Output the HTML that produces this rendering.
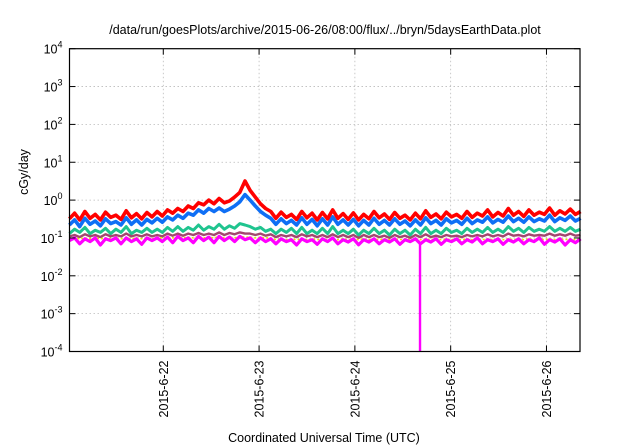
<!DOCTYPE html>
<html><head><meta charset="utf-8"><style>
body{margin:0;background:#fff;}
svg{display:block;font-family:"Liberation Sans",sans-serif;}
</style></head><body>
<svg id="chart" width="640" height="448" viewBox="0 0 640 448">
<rect width="640" height="448" fill="#fff"/>
<text x="325" y="34" font-size="12.5" text-anchor="middle">/data/run/goesPlots/archive/2015-06-26/08:00/flux/../bryn/5daysEarthData.plot</text>
<text transform="translate(28,172) rotate(-90)" font-size="12.5" text-anchor="middle">cGy/day</text>
<text x="324" y="442" font-size="12.5" text-anchor="middle">Coordinated Universal Time (UTC)</text>
<g id="grid"></g>
<g id="series"></g>
<rect x="69.5" y="48.7" width="510.5" height="302.8" fill="none" stroke="#000" stroke-width="1.2"/>
<g id="axes"></g>
</svg>
<script>
const xTicks=[22,23,24,25,26];
const xTickLabels=["2015-6-22","2015-6-23","2015-6-24","2015-6-25","2015-6-26"];
const yTickExps=[-4,-3,-2,-1,0,1,2,3,4];
const tStart=21.02, tStep=0.0539;
const red=[0.32,0.45,0.3,0.5,0.33,0.42,0.3,0.48,0.35,0.4,0.31,0.52,0.34,0.44,0.32,0.47,0.36,0.5,
0.38,0.55,0.45,0.6,0.5,0.7,0.6,0.85,0.75,1.0,0.8,1.1,0.85,0.95,1.2,1.6,
3.2,1.8,1.2,0.8,0.6,0.5,
0.33,0.48,0.35,0.42,0.31,0.5,0.34,0.45,0.3,0.47,0.32,0.55,0.33,0.44,0.31,0.46,0.3,0.42,0.32,0.5,0.34,0.43,0.31,0.47,0.33,0.4,0.3,0.45,0.32,0.52,0.35,0.43,0.32,0.48,0.36,0.42,0.33,0.5,0.35,0.45,0.38,0.55,0.36,0.47,0.38,0.6,0.4,0.5,0.37,0.55,0.4,0.48,0.42,0.62,0.4,0.52,0.43,0.58,0.42,0.5];
const blue=[0.22,0.3,0.2,0.33,0.23,0.28,0.21,0.32,0.24,0.27,0.22,0.34,0.23,0.3,0.22,0.31,0.25,0.33,
0.26,0.36,0.3,0.4,0.33,0.45,0.4,0.55,0.45,0.6,0.5,0.62,0.5,0.58,0.7,0.9,
1.4,1.0,0.7,0.5,0.4,0.33,
0.23,0.32,0.24,0.29,0.22,0.34,0.23,0.31,0.21,0.32,0.22,0.36,0.23,0.3,0.22,0.31,0.21,0.29,0.22,0.33,0.23,0.29,0.22,0.32,0.23,0.28,0.21,0.3,0.22,0.34,0.24,0.29,0.22,0.32,0.25,0.29,0.23,0.33,0.24,0.3,0.26,0.36,0.25,0.31,0.26,0.38,0.27,0.33,0.26,0.36,0.27,0.32,0.28,0.4,0.27,0.34,0.29,0.38,0.28,0.33];
const green=[0.13,0.17,0.14,0.19,0.13,0.16,0.14,0.18,0.13,0.17,0.14,0.2,0.13,0.16,0.14,0.18,0.14,0.17,
0.14,0.19,0.15,0.2,0.15,0.19,0.16,0.22,0.16,0.2,0.17,0.23,0.17,0.21,0.18,0.24,
0.22,0.2,0.17,0.19,0.15,0.17,
0.13,0.17,0.14,0.18,0.13,0.19,0.13,0.16,0.13,0.18,0.13,0.2,0.13,0.16,0.13,0.17,0.12,0.16,0.13,0.18,0.13,0.16,0.12,0.17,0.13,0.16,0.12,0.17,0.13,0.19,0.13,0.16,0.13,0.18,0.14,0.16,0.13,0.18,0.14,0.17,0.14,0.19,0.14,0.17,0.14,0.2,0.15,0.18,0.14,0.19,0.15,0.17,0.15,0.2,0.15,0.18,0.15,0.19,0.15,0.17];
const purple=[0.11,0.12,0.105,0.125,0.11,0.12,0.105,0.125,0.11,0.12,0.11,0.13,0.11,0.12,0.11,0.125,0.11,0.12,
0.11,0.13,0.115,0.13,0.115,0.13,0.12,0.135,0.12,0.13,0.12,0.14,0.12,0.135,0.125,0.14,
0.13,0.13,0.12,0.13,0.115,0.125,
0.105,0.12,0.11,0.12,0.105,0.125,0.11,0.12,0.105,0.12,0.105,0.125,0.105,0.12,0.105,0.12,0.1,0.12,0.105,0.12,0.105,0.115,0.1,0.12,0.105,0.115,0.1,0.12,0.105,0.125,0.105,0.115,0.105,0.12,0.11,0.115,0.105,0.12,0.11,0.12,0.11,0.125,0.11,0.12,0.11,0.13,0.115,0.12,0.11,0.125,0.115,0.12,0.115,0.13,0.115,0.125,0.115,0.13,0.115,0.12];
const yellow=[0.095,0.1,0.095,0.1,0.095,0.1,0.095,0.1,0.095,0.1,0.095,0.1,0.095,0.1,0.095,0.1,0.095,0.1,
0.1,0.105,0.1,0.105,0.1,0.105,0.1,0.11,0.1,0.105,0.1,0.11,0.1,0.105,0.1,0.11,
0.105,0.105,0.1,0.105,0.1,0.1,
0.09,0.095,0.09,0.095,0.09,0.095,0.09,0.095,0.09,0.095,0.09,0.095,0.09,0.095,0.09,0.095,0.09,0.095,0.09,0.095,0.09,0.095,0.09,0.095,0.09,0.095,0.09,0.095,0.09,0.095,0.09,0.095,0.09,0.095,0.09,0.095,0.09,0.095,0.09,0.095,0.09,0.095,0.09,0.095,0.09,0.095,0.09,0.095,0.09,0.095,0.09,0.095,0.09,0.095,0.09,0.095,0.09,0.095,0.09,0.095];
const magenta=[0.085,0.1,0.07,0.095,0.08,0.1,0.065,0.095,0.085,0.1,0.07,0.1,0.08,0.095,0.068,0.1,0.085,0.1,
0.08,0.105,0.075,0.11,0.085,0.1,0.075,0.11,0.085,0.105,0.075,0.11,0.085,0.105,0.08,0.11,
0.09,0.1,0.075,0.1,0.08,0.095,
0.07,0.095,0.08,0.09,0.065,0.095,0.08,0.09,0.068,0.095,0.08,0.1,0.07,0.09,0.078,0.095,0.066,0.09,0.078,0.095,0.07,0.09,0.078,0.095,0.068,0.09,0.08,0.095,0.07,0.09,0.078,0.095,0.068,0.09,0.08,0.095,0.07,0.09,0.078,0.1,0.07,0.09,0.08,0.095,0.068,0.09,0.078,0.095,0.07,0.09,0.08,0.1,0.068,0.09,0.078,0.095,0.065,0.09,0.075,0.095];
const dropTimes=[24.68];
const dropValues=[0.0001];

const X0=69.5,X1=580,Y0=48.7,Y1=351.5,D0=21.021,D1=26.35;
const xs=d=>X0+(d-D0)/(D1-D0)*(X1-X0);
const ys=v=>Y1-(Math.log10(v)+4)/8*(Y1-Y0);
const NS="http://www.w3.org/2000/svg";
const mk=(t,a,p)=>{const e=document.createElementNS(NS,t);for(const k in a)e.setAttribute(k,a[k]);p.appendChild(e);return e;};
const grid=document.getElementById('grid'),axes=document.getElementById('axes'),ser=document.getElementById('series');
xTicks.forEach((d,i)=>{
  const x=xs(d);
  const g=mk('line',{x1:x,x2:x,y1:Y0,y2:Y1,stroke:'#bbb','stroke-dasharray':'1.5,2.5','stroke-width':0.8},grid);
  
  
  const t1=mk('line',{x1:x,x2:x,y1:Y1,y2:Y1-6,stroke:'#000'},axes);
  
  
  mk('line',{x1:x,x2:x,y1:Y0,y2:Y0+6,stroke:'#000'},axes);
  const tl=mk('text',{transform:`translate(${x+4.5},${Y1+9}) rotate(-90)`,'text-anchor':'end','font-size':12.5},axes);
  tl.textContent=xTickLabels[i];
  
  
});
yTickExps.forEach(e=>{
  const y=ys(Math.pow(10,e));
  if(e>-4&&e<4){const g=mk('line',{x1:X0,x2:X1,y1:y,y2:y,stroke:'#bbb','stroke-dasharray':'1.5,2.5','stroke-width':0.8},grid);
  
  }
  const t=mk('line',{x1:X0,x2:X0+6,y1:y,y2:y,stroke:'#000'},axes);
  
  
  mk('line',{x1:X1,x2:X1-6,y1:y,y2:y,stroke:'#000'},axes);
  const tl=mk('text',{x:X0-7,y:y+5,'text-anchor':'end','font-size':12.5},axes);
  
  
  tl.appendChild(document.createTextNode('10'));
  const sp=mk('tspan',{dy:-6,'font-size':9},tl);sp.textContent=String(e);
});
function line(arr,color,name,w,dash){
  const pts=arr.map((v,i)=>xs(tStart+i*tStep).toFixed(1)+','+ys(v).toFixed(1)).join(' ');
  const a={points:pts,fill:'none',stroke:color,'stroke-width':w,'stroke-linejoin':'round'};
  if(dash)a['stroke-dasharray']=dash;
  const p=mk('polyline',a,ser);
  
  
}
line(green,'#1fc48f','series-green',3);
line(purple,'#a3466e','series-purple',2.4);
line(yellow,'#e6e600','series-yellow',1.5,'2,2');
line(magenta,'#ff00ff','series-magenta',3.2);
line(blue,'#0f6ff5','series-blue',3.6);
line(red,'#ff0000','series-red',3.6);
dropTimes.forEach((d,i)=>{
  const idx=Math.round((d-tStart)/tStep);
  const l=mk('line',{x1:xs(d),x2:xs(d),y1:ys(magenta[idx]),y2:ys(dropValues[i]),stroke:'#ff00ff','stroke-width':2.4},ser);
  
  
});
</script>
</body></html>
